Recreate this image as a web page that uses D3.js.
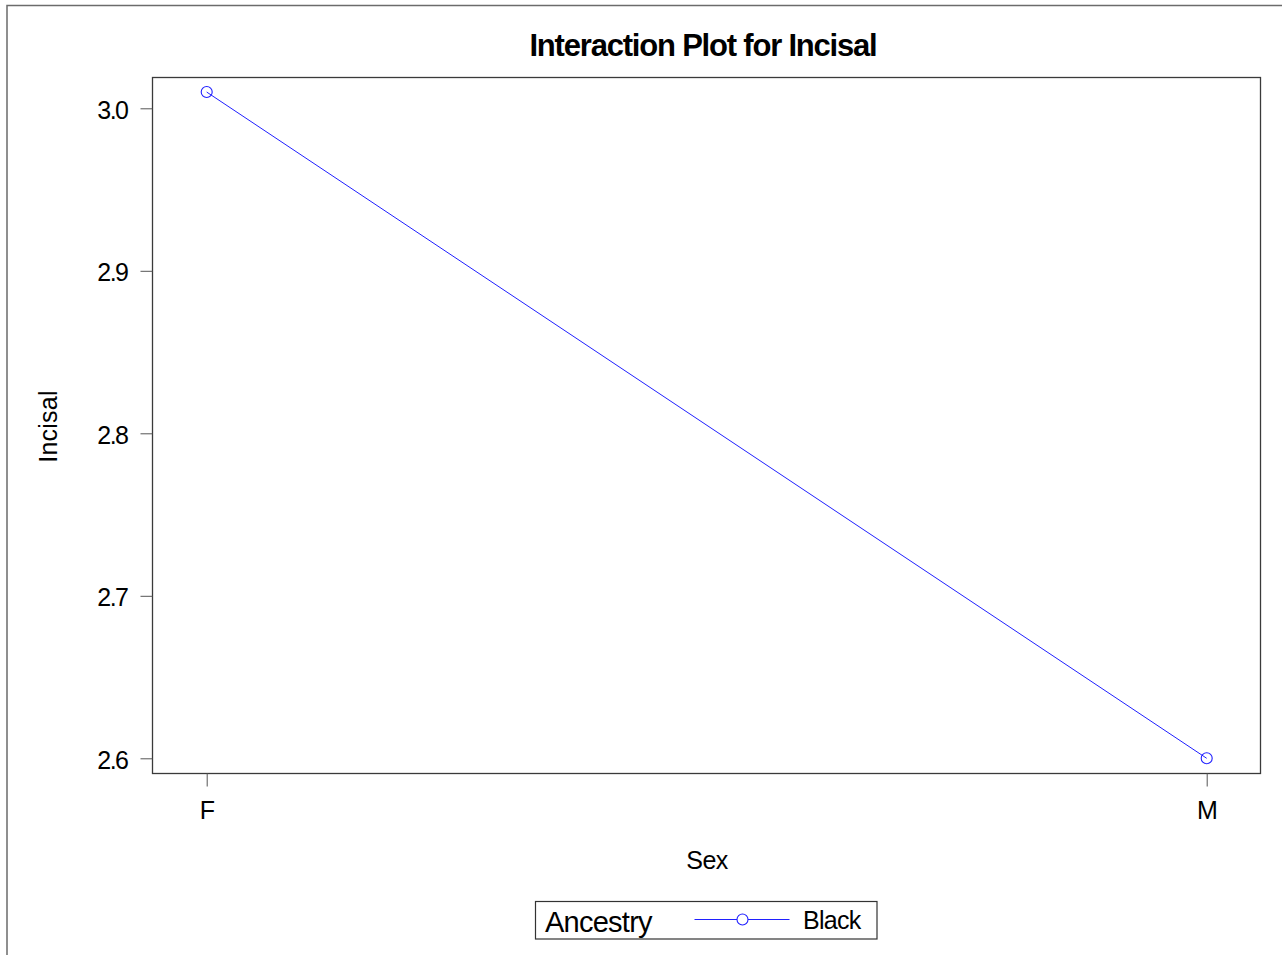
<!DOCTYPE html>
<html>
<head>
<meta charset="utf-8">
<script src="https://cdn.jsdelivr.net/npm/d3@7"></script>
<style>
  html, body { margin: 0; padding: 0; background: #fff; }
  svg { display: block; font-family: "Liberation Sans", Arial, sans-serif; }
</style>
</head>
<body>
<svg id="chart" width="1282" height="955"></svg>
<script>
// Interaction plot: mean Incisal by Sex, one line per Ancestry level
const sexLevels = ["F", "M"];
const ancestryLevels = ["Black"];
const incisalMeans = [3.01, 2.60];
const yTicks = [2.6, 2.7, 2.8, 2.9, 3.0];

const FONT = "Liberation Sans, Arial, sans-serif";
const svg = d3.select("#chart");
const W = 1282, H = 955;
const frame = { left: 152.5, top: 77.5, right: 1260.5, bottom: 773.5 };

// outer page border (top and left edges)
svg.append("path")
  .attr("d", `M7,${H} V5.5 H${W}`)
  .attr("fill", "none").attr("stroke", "#6b6b6b").attr("stroke-width", 1.5);

const x = d3.scalePoint().domain(sexLevels).range([206.7, 1206.7]);
const y = d3.scaleLinear().domain([2.6, 3.0]).range([758.3, 108.3]);

// plot frame
svg.append("rect")
  .attr("x", frame.left).attr("y", frame.top)
  .attr("width", frame.right - frame.left).attr("height", frame.bottom - frame.top)
  .attr("fill", "none").attr("stroke", "#3a3a3a").attr("stroke-width", 1.3);

// y axis
const yAxis = svg.append("g")
  .attr("transform", `translate(${frame.left},0)`)
  .call(d3.axisLeft(y).tickValues(yTicks).tickFormat(d3.format(".1f")).tickSize(12).tickPadding(13));
yAxis.select(".domain").remove();
yAxis.selectAll(".tick line").attr("stroke", "#555");
yAxis.selectAll(".tick text")
  .attr("font-size", 25).attr("fill", "#000").attr("font-family", FONT)
  .attr("dy", "0.4em")
  .attr("letter-spacing", -1.5);

// x axis
const xAxis = svg.append("g")
  .attr("transform", `translate(0,${frame.bottom})`)
  .call(d3.axisBottom(x).tickSize(13).tickPadding(15));
xAxis.select(".domain").remove();
xAxis.selectAll(".tick line").attr("stroke", "#555");
xAxis.selectAll(".tick text")
  .attr("font-size", 25).attr("fill", "#000").attr("font-family", FONT)
  .attr("letter-spacing", -0.5);

// title and axis titles
svg.append("text")
  .attr("x", 703).attr("y", 56).attr("text-anchor", "middle")
  .attr("font-size", 31).attr("font-weight", "bold").attr("letter-spacing", -1.2)
  .text("Interaction Plot for Incisal");

svg.append("text")
  .attr("x", 707).attr("y", 869).attr("text-anchor", "middle")
  .attr("font-size", 25).attr("letter-spacing", -0.5)
  .text("Sex");

svg.append("text")
  .attr("transform", `translate(57,426.5) rotate(-90)`)
  .attr("text-anchor", "middle")
  .attr("font-size", 25).attr("letter-spacing", 0.2)
  .text("Incisal");

// series line and markers
const color = d3.scaleOrdinal().domain(ancestryLevels).range(["#2020ff"]);
const pts = sexLevels.map((s, i) => ({ sex: s, v: incisalMeans[i] }));

svg.append("path")
  .datum(pts)
  .attr("fill", "none").attr("stroke", color("Black")).attr("stroke-width", 1)
  .attr("d", d3.line().x(d => x(d.sex)).y(d => y(d.v)));

svg.selectAll("circle.pt").data(pts).join("circle")
  .attr("class", "pt")
  .attr("cx", d => x(d.sex)).attr("cy", d => y(d.v)).attr("r", 5.5)
  .attr("fill", "none").attr("stroke", color("Black")).attr("stroke-width", 1.1);

// legend
const lg = svg.append("g");
lg.append("rect")
  .attr("x", 535.5).attr("y", 901.5).attr("width", 341.5).attr("height", 37.5)
  .attr("fill", "#fff").attr("stroke", "#333").attr("stroke-width", 1.2);
lg.append("text")
  .attr("x", 545).attr("y", 931.5).attr("font-size", 29).attr("letter-spacing", -0.75)
  .text("Ancestry");
lg.append("line")
  .attr("x1", 694.5).attr("x2", 789.5).attr("y1", 919.5).attr("y2", 919.5)
  .attr("stroke", color("Black")).attr("stroke-width", 1);
lg.append("circle")
  .attr("cx", 742.5).attr("cy", 919.5).attr("r", 5.5)
  .attr("fill", "#fff").attr("stroke", color("Black")).attr("stroke-width", 1.1);
lg.append("text")
  .attr("x", 803).attr("y", 929).attr("font-size", 25).attr("letter-spacing", -0.7)
  .text(ancestryLevels[0]);
</script>
</body>
</html>
